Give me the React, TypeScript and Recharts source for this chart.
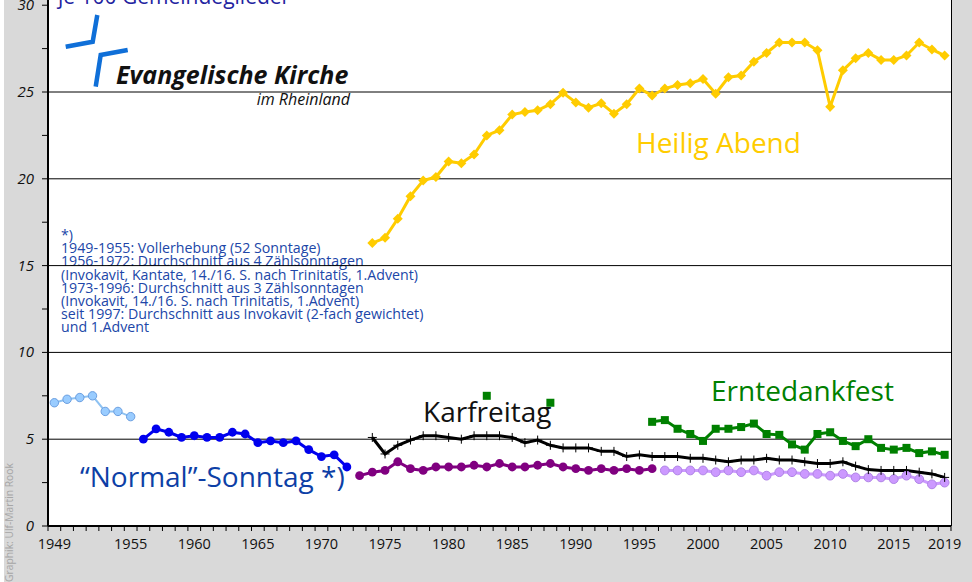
import { LineChart, Line, XAxis, YAxis, ReferenceLine } from "recharts"

// categories
const years = Array.from({ length: 71 }, (_, i) => 1949 + i)
const xLabelYears = [1949, 1955, 1960, 1965, 1970, 1975, 1980, 1985, 1990, 1995, 2000, 2005, 2010, 2015, 2019]
const yTicks = [0, 2.5, 5, 7.5, 10, 12.5, 15, 17.5, 20, 22.5, 25, 27.5, 30]
const gridValues = [5, 10, 15, 20, 25]

// "Normal"-Sonntag, split by counting method
const sundayFull = [7.1, 7.3, 7.4, 7.5, 6.6, 6.6, 6.3] // 1949-1955
const sundayFour = [5.0, 5.6, 5.4, 5.1, 5.2, 5.1, 5.1, 5.4, 5.3, 4.8, 4.9, 4.8, 4.9, 4.4, 4.0, 4.1, 3.4] // 1956-1972
const sundayThree = [2.9, 3.1, 3.2, 3.7, 3.3, 3.2, 3.4, 3.4, 3.4, 3.5, 3.4, 3.6, 3.4, 3.4, 3.5, 3.6, 3.4, 3.3, 3.2, 3.3, 3.2, 3.3, 3.2, 3.3] // 1973-1996
const sundayTwo = [3.2, 3.2, 3.2, 3.2, 3.1, 3.2, 3.1, 3.2, 2.9, 3.1, 3.1, 3.0, 3.0, 2.9, 3.0, 2.8, 2.8, 2.8, 2.7, 2.9, 2.7, 2.4, 2.5] // 1997-2019

// 1974-2019
const goodFriday = [5.1, 4.15, 4.65, 4.95, 5.2, 5.2, 5.1, 5.0, 5.2, 5.2, 5.2, 5.1, 4.8, 4.95, 4.65, 4.5, 4.5, 4.5, 4.3, 4.3, 4.0, 4.1, 4.0,
  4.0, 4.0, 3.9, 3.9, 3.8, 3.7, 3.8, 3.8, 3.9, 3.8, 3.8, 3.7, 3.6, 3.6, 3.7, 3.45, 3.25, 3.2, 3.2, 3.2, 3.1, 3.0, 2.8]
const christmasEve = [16.3, 16.6, 17.7, 19.0, 19.9, 20.1, 21.0, 20.9, 21.4, 22.5, 22.8, 23.7, 23.85, 23.95, 24.3, 24.95, 24.4, 24.1, 24.35, 23.75, 24.3, 25.2, 24.8,
  25.2, 25.4, 25.5, 25.75, 24.9, 25.85, 25.95, 26.75, 27.25, 27.85, 27.85, 27.85, 27.4, 24.15, 26.25, 26.95, 27.25, 26.85, 26.85, 27.1, 27.85, 27.45, 27.1]

// Erntedankfest: two single years, then 1996-2019
const harvestYears = [1983, 1988]
const harvestSingle = [7.5, 7.1]
const harvest = [6.0, 6.1, 5.6, 5.3, 4.9, 5.6, 5.6, 5.7, 5.9, 5.3, 5.25, 4.7, 4.4, 5.3, 5.4, 4.9, 4.6, 5.0, 4.5, 4.4, 4.5, 4.2, 4.3, 4.1]

const footnote = [
  "*)",
  "1949-1955: Vollerhebung (52 Sonntage)",
  "1956-1972: Durchschnitt aus 4 Zählsonntagen",
  "(Invokavit, Kantate, 14./16. S. nach Trinitatis, 1.Advent)",
  "1973-1996: Durchschnitt aus 3 Zählsonntagen",
  "(Invokavit, 14./16. S. nach Trinitatis, 1.Advent)",
  "seit 1997: Durchschnitt aus Invokavit (2-fach gewichtet)",
  "und 1.Advent",
]

const pick = (arr: number[], start: number, year: number) => {
  const v = arr[year - start]
  return v === undefined ? null : v
}

const rows = years.map(year => ({
  year,
  full: pick(sundayFull, 1949, year),
  four: pick(sundayFour, 1956, year),
  three: pick(sundayThree, 1973, year),
  two: pick(sundayTwo, 1997, year),
  friday: pick(goodFriday, 1974, year),
  eve: pick(christmasEve, 1974, year),
  harvest: harvestYears.includes(year) ? harvestSingle[harvestYears.indexOf(year)] : pick(harvest, 1996, year),
}))

const minorTicks = years.map(y => y - 0.5).concat([2019.5])
const xTicks = [...minorTicks, ...xLabelYears]

const FONT = "'Open Sans', sans-serif"

function XTick({ x, y, payload }: any) {
  const v = payload.value
  if (v % 1 !== 0) return <line x1={x} x2={x} y1={y} y2={y + 5} stroke="#000" strokeWidth={1} />
  return (
    <text x={x} y={y + 23} textAnchor="middle" fontSize={14.5} fill="#111" fontFamily={FONT}>
      {v}
    </text>
  )
}

function YTick({ x, y, payload }: any) {
  const v = payload.value
  return (
    <g>
      <line x1={x - 6} x2={x} y1={y} y2={y} stroke="#000" strokeWidth={1} />
      {v % 5 === 0 && (
        <text x={x - 14} y={y + 5} textAnchor="end" fontSize={15} fontStyle="italic" fill="#111" fontFamily={FONT}>
          {v}
        </text>
      )}
    </g>
  )
}

const diamondDot = (p: any) => {
  if (p.value == null || p.cy == null) return <g key={p.index} />
  const { cx, cy } = p
  return <polygon key={p.index} points={`${cx},${cy - 5} ${cx + 5},${cy} ${cx},${cy + 5} ${cx - 5},${cy}`} fill="#FFCC00" />
}

const squareDot = (p: any) => {
  if (p.value == null || p.cy == null) return <g key={p.index} />
  return <rect key={p.index} x={p.cx - 4} y={p.cy - 4} width={8} height={8} fill="#008000" />
}

const plusDot = (p: any) => {
  if (p.value == null || p.cy == null) return <g key={p.index} />
  const { cx, cy } = p
  return (
    <g key={p.index}>
      <line x1={cx - 4.5} x2={cx + 4.5} y1={cy} y2={cy} stroke="#000" strokeWidth={1} />
      <line x1={cx} x2={cx} y1={cy - 4.5} y2={cy + 4.5} stroke="#000" strokeWidth={1} />
    </g>
  )
}

export default function App() {
  return (
    <div style={{ position: "absolute", left: 0, top: 0, width: 972, height: 582, background: "#d9d9d9", overflow: "hidden", fontFamily: FONT }}>
      <div style={{ position: "absolute", left: 0, top: 0, width: 4, height: 582, background: "#fff" }} />
      <div style={{ position: "absolute", left: 48, top: 0, width: 903, height: 526, background: "#fff", borderRight: "1px solid #000" }} />

      <svg width={972} height={582} style={{ position: "absolute", left: 0, top: 0 }}>
        <text x={58} y={4} fontSize={21} fill="#2323a0" fontFamily={FONT}>je 100 Gemeindeglieder</text>
        <path d="M65.7,46.7 L92.7,41.7 L97.3,15" fill="none" stroke="#0f6fd8" strokeWidth={4.5} />
        <path d="M95.7,86.7 L100.7,55 L127.7,50" fill="none" stroke="#0f6fd8" strokeWidth={4.5} />
        <text x={116} y={83.5} fontSize={25} fontWeight="bold" fontStyle="italic" fill="#111" fontFamily={FONT}>Evangelische Kirche</text>
        <text x={350} y={105} fontSize={16} fontStyle="italic" fill="#111" fontFamily={FONT} textAnchor="end">im Rheinland</text>

        {footnote.map((line, i) => (
          <text key={i} x={61} y={240.2 + i * 13.1} fontSize={14.2} fill="#2046a8" fontFamily={FONT}>{line}</text>
        ))}

        <text x={636} y={153} fontSize={28} fill="#FFCC00" fontFamily={FONT}>Heilig Abend</text>
        <text x={711} y={400.5} fontSize={28} fill="#008000" fontFamily={FONT}>Erntedankfest</text>
        <text x={423} y={422} fontSize={28} fill="#111" fontFamily={FONT}>Karfreitag</text>
        <text x={80} y={487} fontSize={28} fill="#0d3fa6" fontFamily={FONT}>“Normal”-Sonntag *)</text>
        <text x={0} y={0} transform="translate(13,582) rotate(-90)" fontSize={10.3} fill="#a6a6a6" fontFamily={FONT}>Graphik: Ulf-Martin Rook</text>
      </svg>

      <div style={{ position: "absolute", left: 0, top: 0 }}>
        <LineChart width={972} height={582} data={rows} margin={{ top: 0, right: 21, bottom: 0, left: 0 }}>
          <XAxis
            dataKey="year"
            type="number"
            domain={[1948.5, 2019.5]}
            ticks={xTicks}
            interval={0}
            tick={<XTick />}
            tickLine={false}
            tickSize={0}
            tickMargin={0}
            height={56}
            axisLine={{ stroke: "#000", strokeWidth: 2 }}
          />
          <YAxis
            type="number"
            domain={[0, 30.3]}
            ticks={yTicks}
            interval={0}
            tick={<YTick />}
            tickLine={false}
            tickSize={0}
            tickMargin={0}
            width={48}
            axisLine={{ stroke: "#000", strokeWidth: 2 }}
          />
          {gridValues.map(v => (
            <ReferenceLine key={v} y={v} stroke="#000" strokeWidth={1} />
          ))}
          <Line dataKey="full" stroke="#8ec2f2" strokeWidth={2} dot={{ r: 4.2, fill: "#99ccff", stroke: "#6a9ee0", strokeWidth: 1 }} activeDot={false} isAnimationActive={false} />
          <Line dataKey="four" stroke="#0000ee" strokeWidth={3} dot={{ r: 4.4, fill: "#0000ee", stroke: "#0000ee", strokeWidth: 0 }} activeDot={false} isAnimationActive={false} />
          <Line dataKey="three" stroke="#800080" strokeWidth={3} dot={{ r: 4.4, fill: "#800080", stroke: "#800080", strokeWidth: 0 }} activeDot={false} isAnimationActive={false} />
          <Line dataKey="two" stroke="#cc99ff" strokeWidth={3} dot={{ r: 4.4, fill: "#cc99ff", stroke: "#b084e6", strokeWidth: 1 }} activeDot={false} isAnimationActive={false} />
          <Line dataKey="friday" stroke="#000" strokeWidth={3} dot={plusDot} activeDot={false} isAnimationActive={false} />
          <Line dataKey="harvest" stroke="#008000" strokeWidth={3} dot={squareDot} activeDot={false} isAnimationActive={false} />
          <Line dataKey="eve" stroke="#FFCC00" strokeWidth={3} dot={diamondDot} activeDot={false} isAnimationActive={false} />
        </LineChart>
      </div>
    </div>
  )
}
